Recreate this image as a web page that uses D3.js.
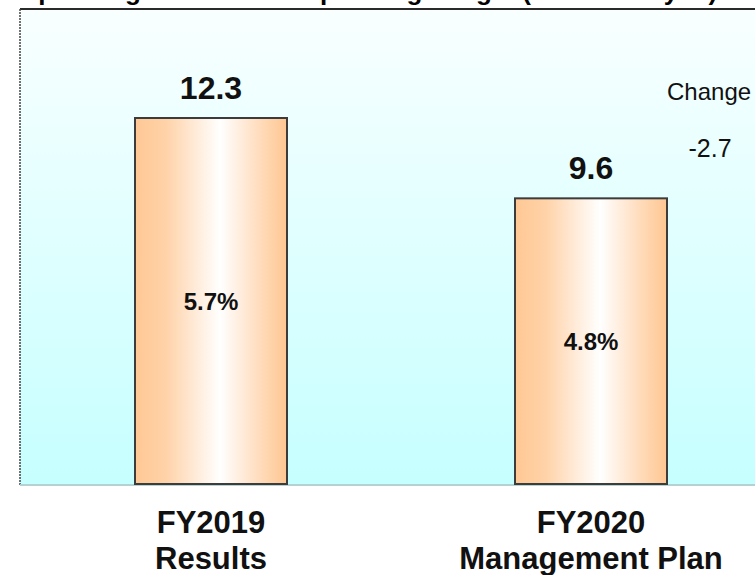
<!DOCTYPE html>
<html>
<head>
<meta charset="utf-8">
<script src="https://cdn.jsdelivr.net/npm/d3@7"></script>
<style>
  html, body { margin: 0; padding: 0; background: #fff; }
  svg { display: block; font-family: "Liberation Sans", Arial, sans-serif; }
</style>
</head>
<body>
<svg id="chart"></svg>
<script>
// data
const categories = ['FY2019|Results', 'FY2020|Management Plan'];
const values = [12.3, 9.6];         // billions of yen
const margins = ['5.7%', '4.8%'];   // operating margin
const titleText = 'Operating Income and Operating Margin (Billions of yen)';

const width = 755;
const height = 575;
const plotLeft = 20;
const plotTop = 9;
const plotBottom = 484;

const svg = d3.select('#chart')
  .attr('width', width)
  .attr('height', height)
  .attr('viewBox', [0, 0, width, height]);

const defs = svg.append('defs');

// background gradient (top light -> bottom cyan)
const bg = defs.append('linearGradient')
  .attr('id', 'bg-grad')
  .attr('x1', 0).attr('y1', 0).attr('x2', 0).attr('y2', 1);
bg.append('stop').attr('offset', '0%').attr('stop-color', '#f9ffff');
bg.append('stop').attr('offset', '100%').attr('stop-color', '#c6ffff');

// bar gradient (orange edges, white centre)
const bar = defs.append('linearGradient')
  .attr('id', 'bar-grad')
  .attr('x1', 0).attr('y1', 0).attr('x2', 1).attr('y2', 0);
bar.append('stop').attr('offset', '0%').attr('stop-color', '#ffc894');
bar.append('stop').attr('offset', '20%').attr('stop-color', '#ffd2a8');
bar.append('stop').attr('offset', '56%').attr('stop-color', '#ffffff');
bar.append('stop').attr('offset', '82%').attr('stop-color', '#ffdcbc');
bar.append('stop').attr('offset', '100%').attr('stop-color', '#ffc690');

// scales
const x = d3.scaleBand()
  .domain(categories)
  .range([plotLeft + 1, 781])
  .paddingInner(0.6)
  .paddingOuter(0.3);

const y = d3.scaleLinear()
  .domain([0, 15])
  .range([plotBottom, plotBottom - 15 * (366 / 12.3)]);

// title (cut off by the top edge, only descenders show)
svg.append('text')
  .attr('x', 18)
  .attr('y', 0)
  .attr('font-size', 26)
  .attr('font-weight', 'bold')
  .attr('fill', '#000')
  .text(titleText);

// plot area
svg.append('rect')
  .attr('x', plotLeft)
  .attr('y', plotTop)
  .attr('width', width - plotLeft + 10)
  .attr('height', plotBottom - plotTop)
  .attr('fill', 'url(#bg-grad)');

svg.append('line')
  .attr('x1', plotLeft).attr('x2', width)
  .attr('y1', plotTop).attr('y2', plotTop)
  .attr('stroke', '#2a2a2a')
  .attr('stroke-width', 2);

svg.append('line')
  .attr('x1', plotLeft).attr('x2', plotLeft)
  .attr('y1', plotTop).attr('y2', plotBottom + 1)
  .attr('stroke', '#444')
  .attr('stroke-width', 1.5)
  .attr('stroke-dasharray', '2,1');

svg.append('line')
  .attr('x1', plotLeft).attr('x2', width)
  .attr('y1', plotBottom + 1).attr('y2', plotBottom + 1)
  .attr('stroke', '#b4d2d2')
  .attr('stroke-width', 2);

// bars
svg.append('g')
  .selectAll('rect')
  .data(values)
  .join('rect')
    .attr('x', (d, i) => x(categories[i]))
    .attr('y', d => y(d))
    .attr('width', x.bandwidth())
    .attr('height', d => y(0) - y(d))
    .attr('fill', 'url(#bar-grad)')
    .attr('stroke', '#3c3c3c')
    .attr('stroke-width', 2);

// value labels
svg.append('g')
  .selectAll('text')
  .data(values)
  .join('text')
    .attr('x', (d, i) => x(categories[i]) + x.bandwidth() / 2)
    .attr('y', d => y(d) - 19)
    .attr('text-anchor', 'middle')
    .attr('font-size', 32)
    .attr('font-weight', 'bold')
    .attr('fill', '#111')
    .text(d => d3.format('.1f')(d));

// margin labels inside bars
svg.append('g')
  .selectAll('text')
  .data(values)
  .join('text')
    .attr('x', (d, i) => x(categories[i]) + x.bandwidth() / 2)
    .attr('y', d => (y(d) + y(0)) / 2 + 9)
    .attr('text-anchor', 'middle')
    .attr('font-size', 24)
    .attr('font-weight', 'bold')
    .attr('fill', '#111')
    .text((d, i) => margins[i]);

// change annotation
const xRight = x(categories[1]) + x.bandwidth();
svg.append('text')
  .attr('x', xRight)
  .attr('y', 100)
  .attr('font-size', 24)
  .attr('fill', '#111')
  .text('Change');

svg.append('text')
  .attr('x', xRight + 43)
  .attr('y', 157)
  .attr('text-anchor', 'middle')
  .attr('font-size', 25)
  .attr('fill', '#111')
  .text(d3.format('.1f')(values[1] - values[0]).replace('−', '-'));

// category labels
svg.append('g')
  .selectAll('text')
  .data(categories)
  .join('text')
    .attr('x', d => x(d) + x.bandwidth() / 2)
    .attr('y', 533)
    .attr('text-anchor', 'middle')
    .attr('font-size', 31)
    .attr('font-weight', 'bold')
    .attr('fill', '#111')
    .call(t => t.selectAll('tspan')
      .data(d => d.split('|'))
      .join('tspan')
        .attr('x', function() { return this.parentNode.getAttribute('x'); })
        .attr('dy', (d, i) => i ? 36 : 0)
        .text(d => d));
</script>
</body>
</html>
